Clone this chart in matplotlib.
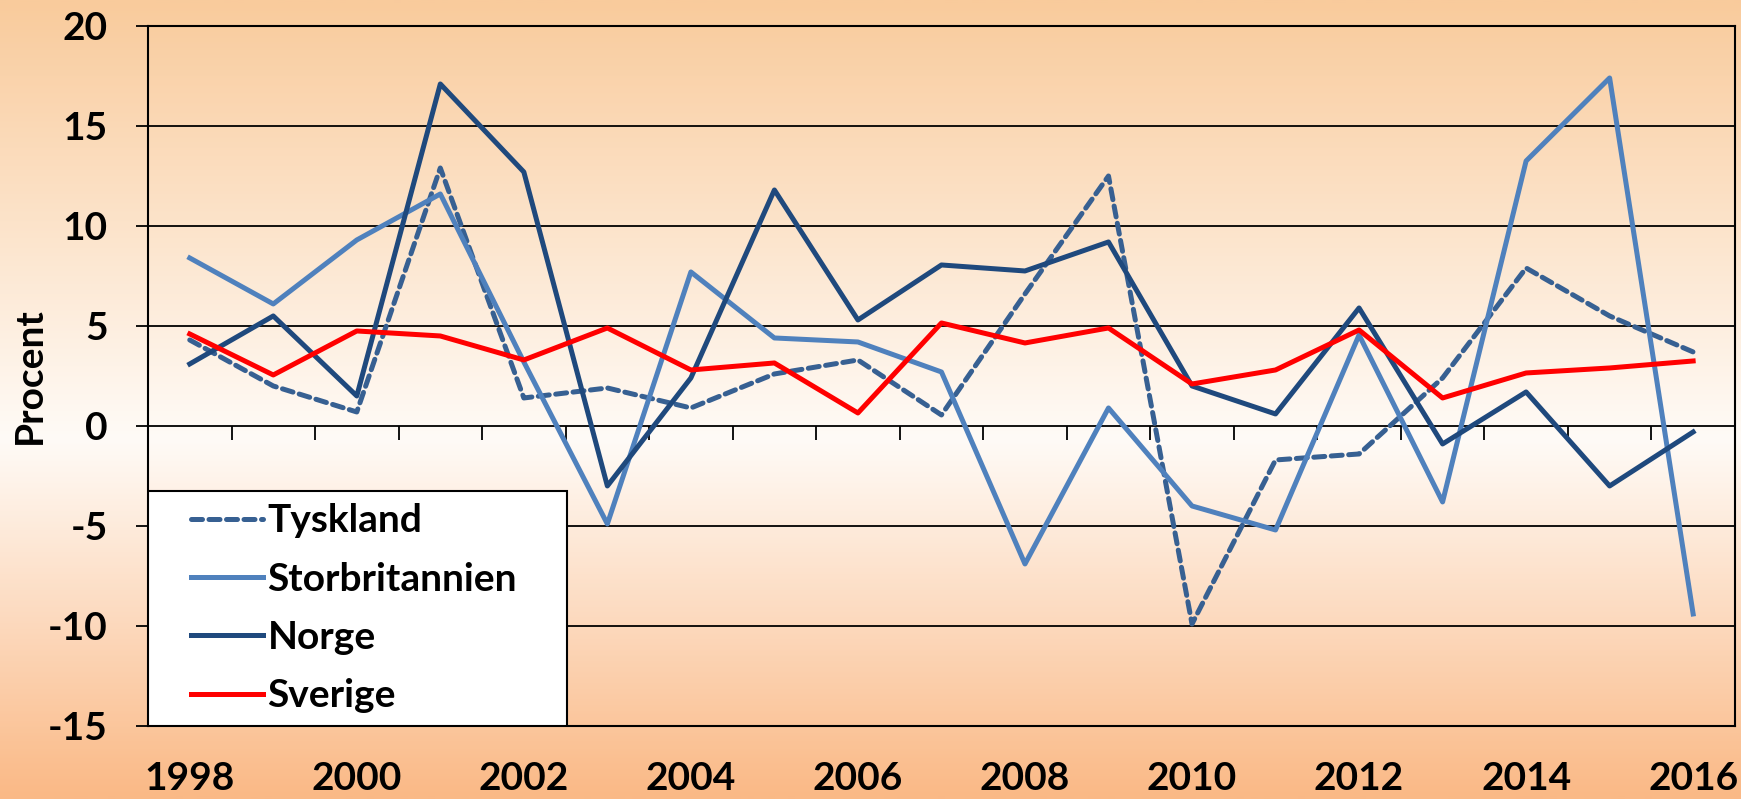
import numpy as np
import matplotlib.pyplot as plt
from matplotlib.colors import LinearSegmentedColormap
from matplotlib.patches import Rectangle

years = list(range(1998, 2017))
tyskland = [4.3, 2.0, 0.7, 12.9, 1.4, 1.9, 0.9, 2.6, 3.3, 0.55, 6.6, 12.5,
            -9.9, -1.7, -1.4, 2.4, 7.9, 5.5, 3.7]
storbritannien = [8.4, 6.1, 9.3, 11.6, 3.2, -4.9, 7.7, 4.4, 4.2, 2.7, -6.9, 0.9,
                  -4.0, -5.2, 4.55, -3.8, 13.25, 17.4, -9.4]
norge = [3.1, 5.5, 1.5, 17.1, 12.7, -3.0, 2.4, 11.8, 5.3, 8.05, 7.75, 9.2,
         2.0, 0.6, 5.9, -0.9, 1.7, -3.0, -0.3]
sverige = [4.6, 2.55, 4.75, 4.5, 3.3, 4.9, 2.8, 3.15, 0.65, 5.15, 4.15, 4.9,
           2.1, 2.8, 4.8, 1.4, 2.65, 2.9, 3.25]

plt.rcParams['axes.unicode_minus'] = False
font = 'Lato'
fs = 28

fig = plt.figure(figsize=(17.41, 7.99), dpi=100)

# background gradient over the whole figure
bg = fig.add_axes([0, 0, 1, 1], zorder=-5)
cmap = LinearSegmentedColormap.from_list(
    'bg', [(0.0, '#F9CB9C'), (0.55, '#FFFBF7'), (1.0, '#FAB986')])
grad = np.linspace(0, 1, 400).reshape(-1, 1)
bg.imshow(grad, aspect='auto', cmap=cmap, extent=[0, 1, 1, 0])
bg.axis('off')

ax = fig.add_axes([0.085, 0.0914, 0.9115, 0.8761])
ax.patch.set_alpha(0)

x = np.arange(len(years))
ax.plot(x, tyskland, color='#376092', lw=3.6, ls=(0, (2.2, 1.3)),
        dash_capstyle='round', label='Tyskland', zorder=3)
ax.plot(x, storbritannien, color='#4F81BD', lw=3.6, label='Storbritannien', zorder=3)
ax.plot(x, norge, color='#1F497D', lw=3.6, label='Norge', zorder=3)
ax.plot(x, sverige, color='#FF0000', lw=3.6, label='Sverige', zorder=4)

ax.set_xlim(-0.5, len(years) - 0.5)
ax.set_ylim(-15, 20)
ax.set_yticks(range(-15, 21, 5))
ax.yaxis.grid(True, color='black', lw=1.3)
ax.set_axisbelow(True)
for s in ax.spines.values():
    s.set_color('black')
    s.set_linewidth(1.5)

ax.tick_params(axis='y', length=9, width=1.3, direction='out', pad=20)
ax.set_xticks(x[::2])
ax.set_xticklabels([str(y) for y in years[::2]])
ax.tick_params(axis='x', length=0, pad=25)
for lab in ax.get_xticklabels() + ax.get_yticklabels():
    lab.set_fontfamily(font)
    lab.set_fontweight('bold')
    lab.set_fontsize(fs)

# category boundary ticks on the zero line
sec = ax.secondary_xaxis(15 / 35)
sec.set_xticks(np.arange(-0.5, len(years) - 0.5, 1.0)[1:])
sec.set_xticklabels([])
sec.tick_params(length=10, width=1.3, direction='out')
sec.spines['bottom'].set_visible(False)

ax.set_ylabel('Procent', fontfamily=font, fontweight='bold', fontsize=fs,
              labelpad=1)

# legend: white box drawn separately so the entries can sit inset
box = Rectangle((0, 0), 0.264, 0.336, transform=ax.transAxes, facecolor='white',
                edgecolor='black', lw=1.5, zorder=4.5)
ax.add_patch(box)
leg = ax.legend(loc='upper left', bbox_to_anchor=(0.027, 0.318),
                borderaxespad=0, frameon=False, borderpad=0,
                handlelength=1.85, handletextpad=0.12, labelspacing=0.6,
                prop={'family': font, 'weight': 'bold', 'size': fs})
leg.set_zorder(5)

fig.savefig('out.png', dpi=100)
